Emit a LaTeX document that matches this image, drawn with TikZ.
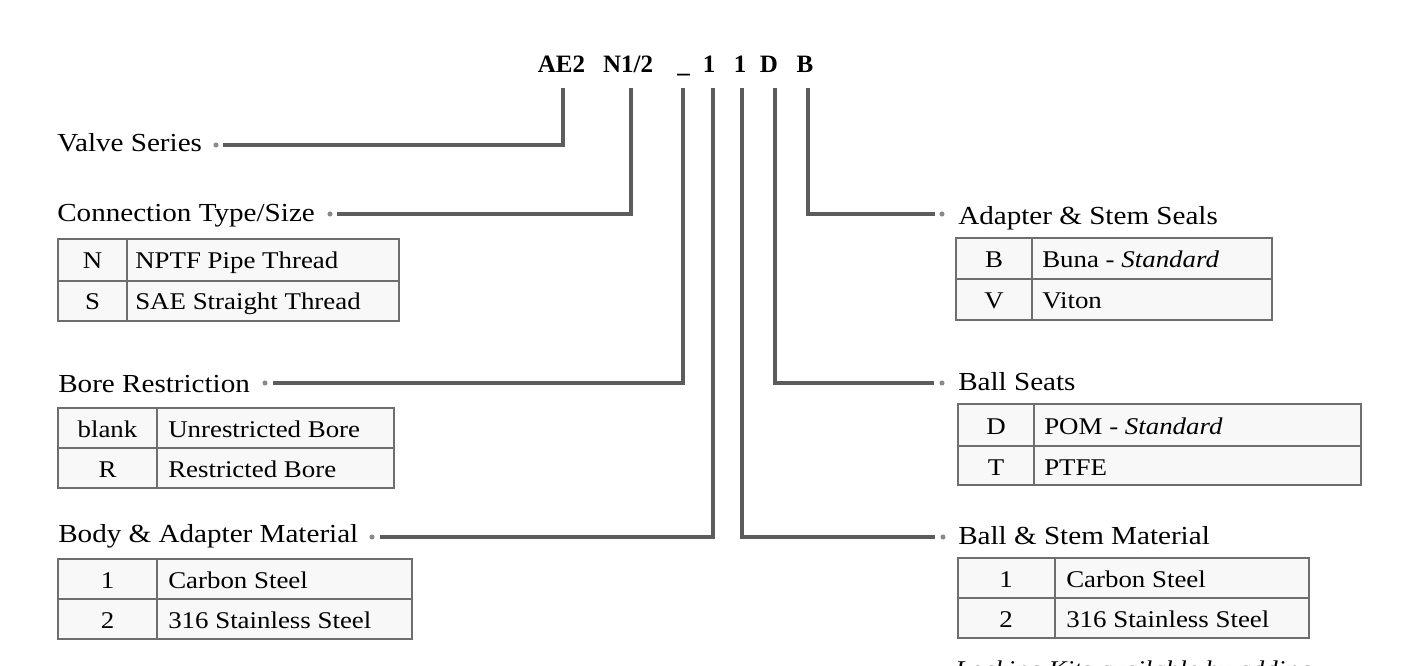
\documentclass[tikz,border=0pt]{standalone}
\usepackage{fontspec}
\setmainfont{Liberation Serif}[FakeStretch=1.12]
\newfontfamily\titlefont{Liberation Serif}
\definecolor{connc}{HTML}{5C5C5C}
\definecolor{tabc}{HTML}{6E6E6E}
\definecolor{dotc}{HTML}{8A8A8A}
\definecolor{cellfill}{HTML}{F8F8F8}
\tikzset{
  conn/.style={draw=connc, line width=2.4pt},
  tabline/.style={draw=tabc, line width=1.5pt},
  head/.style={anchor=base west, inner sep=0pt, font=\fontsize{19.5}{22}\selectfont},
  cellw/.style={anchor=base west, inner sep=0pt, font=\fontsize{18}{21}\selectfont},
  cellm/.style={anchor=base, inner sep=0pt, font=\fontsize{18}{21}\selectfont},
  code/.style={anchor=base, inner sep=0pt, font=\titlefont\bfseries\fontsize{18.75}{22}\selectfont},
  dot/.style={fill=dotc}
}
\newcommand{\codetable}[6]{% x1 xdiv x2 ytop ymid ybot
  \fill[cellfill] (#1,#4) rectangle (#3,#6);
  \draw[tabline] (#1,#4) rectangle (#3,#6);
  \draw[tabline] (#1,#5) -- (#3,#5);
  \draw[tabline] (#2,#4) -- (#2,#6);
}
\begin{document}
\begin{tikzpicture}[x=0.75pt,y=-0.75pt]
\useasboundingbox (0,0) rectangle (1416,666);
\clip (0,0) rectangle (1416,666);
\fill[white] (0,0) rectangle (1416,666);

% code letters
\node[code] (cAE) at (561.5,73) {AE2};
\node[code] (cN) at (628,73) {N1/2};
\node[code] (cU) at (683.5,73) {\_};
\node[code] (cOneA) at (709,73) {1};
\node[code] (cOneB) at (740,73) {1};
\node[code] (cD) at (769,73) {D};
\node[code] (cB) at (805,73) {B};

% connector tops
\coordinate (v1) at (563,88);
\coordinate (v2) at (631,88);
\coordinate (v3) at (683,88);
\coordinate (v4) at (713,88);
\coordinate (v5) at (742,88);
\coordinate (v6) at (775,88);
\coordinate (v7) at (808,88);
% connector ends
\coordinate (e1) at (223,145);
\coordinate (e2) at (337,214);
\coordinate (e3) at (273,383);
\coordinate (e4) at (380,537);
\coordinate (e5) at (935,537);
\coordinate (e6) at (934,383);
\coordinate (e7) at (935,214);
% dots
\coordinate (d1) at (216,145);
\coordinate (d2) at (330,214);
\coordinate (d3) at (265,383);
\coordinate (d4) at (372,537);
\coordinate (d5) at (943,537);
\coordinate (d6) at (942,383);
\coordinate (d7) at (942,214);

\draw[conn] (v1) |- (e1);
\draw[conn] (v2) |- (e2);
\draw[conn] (v3) |- (e3);
\draw[conn] (v4) |- (e4);
\draw[conn] (v5) |- (e5);
\draw[conn] (v6) |- (e6);
\draw[conn] (v7) |- (e7);
\foreach \d in {d1,d2,d3,d4,d5,d6,d7} \fill[dot] (\d) circle (1.9pt);

% left headings
\node[head] (hValve) at (57,152) {Valve Series};
\node[head] (hConn) at (57,222) {Connection Type/Size};
\node[head] (hBore) at (58,392) {Bore Restriction};
\node[head] (hBody) at (58,542) {Body \& Adapter Material};
% right headings
\node[head] (hSeal) at (958,225) {Adapter \& Stem Seals};
\node[head] (hSeat) at (958,390) {Ball Seats};
\node[head] (hStem) at (958,544) {Ball \& Stem Material};

% tables
\codetable{58}{127}{399}{239}{281}{321}
\node[cellm] (n1) at (92.5,269) {N};
\node[cellw] (n1t) at (135,269) {NPTF Pipe Thread};
\node[cellm] (n2) at (92.5,310) {S};
\node[cellw] (n2t) at (135,310) {SAE Straight Thread};

\codetable{58}{157}{394}{408}{448}{488}
\node[cellm] (b1) at (107.5,437) {blank};
\node[cellw] (b1t) at (168,437) {Unrestricted Bore};
\node[cellm] (b2) at (107.5,477) {R};
\node[cellw] (b2t) at (168,477) {Restricted Bore};

\codetable{58}{157}{412}{559}{599}{639}
\node[cellm] (m1) at (107.5,588) {1};
\node[cellw] (m1t) at (168,588) {Carbon Steel};
\node[cellm] (m2) at (107.5,628) {2};
\node[cellw] (m2t) at (168,628) {316 Stainless Steel};

\codetable{956}{1032}{1272}{238}{279}{320}
\node[cellm] (s1) at (994,268) {B};
\node[cellw] (s1t) at (1042,268) {Buna - \textit{Standard}};
\node[cellm] (s2) at (994,309) {V};
\node[cellw] (s2t) at (1042,309) {Viton};

\codetable{958}{1034}{1361}{404}{446}{485}
\node[cellm] (p1) at (996,434) {D};
\node[cellw] (p1t) at (1044,434) {POM - \textit{Standard}};
\node[cellm] (p2) at (996,475) {T};
\node[cellw] (p2t) at (1044,475) {PTFE};

\codetable{958}{1055}{1309}{558}{598}{638}
\node[cellm] (k1) at (1006,587) {1};
\node[cellw] (k1t) at (1066,587) {Carbon Steel};
\node[cellm] (k2) at (1006,627) {2};
\node[cellw] (k2t) at (1066,627) {316 Stainless Steel};

% cut-off note (cut by the lower edge, as in the reference)
\node[cellw] (note) at (955,677) {\textit{Locking Kits available by adding}};
\end{tikzpicture}
\end{document}
